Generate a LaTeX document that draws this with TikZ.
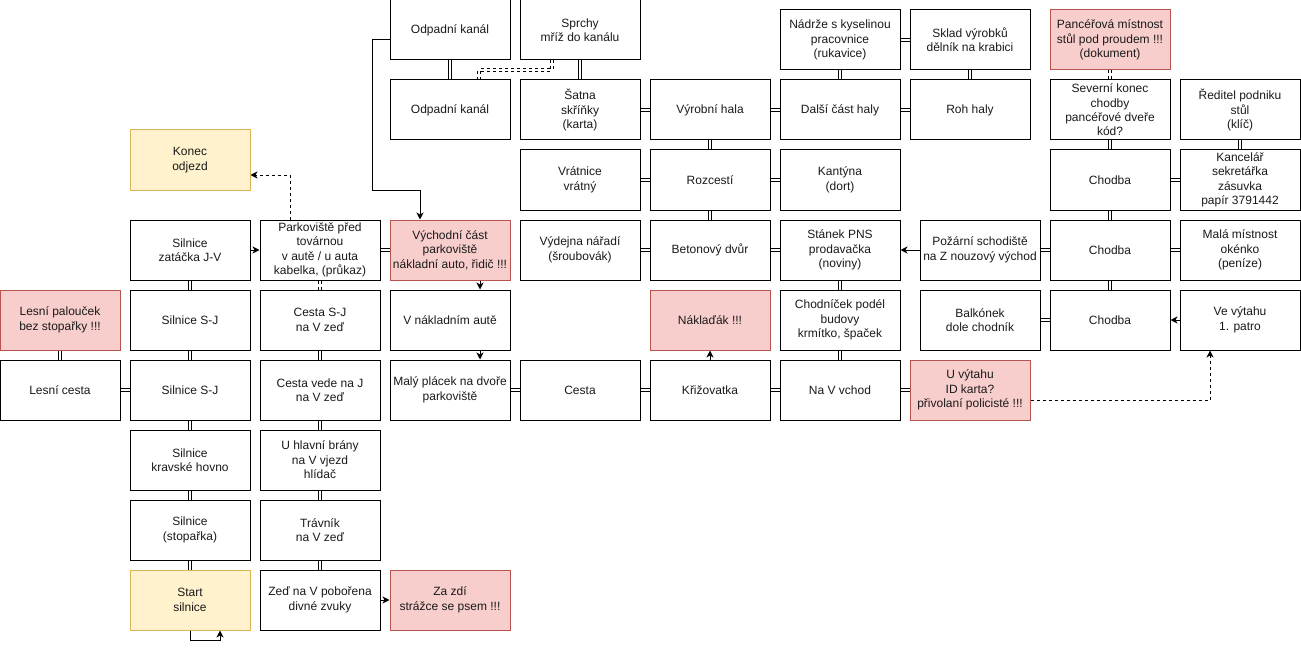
\documentclass[tikz,border=0pt]{standalone}
\usepackage{fontspec}
\setmainfont{Liberation Sans}
\usetikzlibrary{arrows.meta}
\definecolor{redfill}{HTML}{F8CECC}
\definecolor{redline}{HTML}{B85450}
\definecolor{yelfill}{HTML}{FFF2CC}
\definecolor{yelline}{HTML}{D6B656}
\definecolor{txt}{HTML}{1A1A1A}
\begin{document}
\begin{tikzpicture}[x=1pt,y=-1pt,
  box/.style={draw=black, line width=1pt, fill=white, minimum width=120pt, minimum height=60pt,
    inner sep=1pt, align=center, text=txt, font=\fontsize{12}{14.4}\selectfont},
  redbox/.style={box, draw=redline, fill=redfill},
  yelbox/.style={box, draw=yelline, fill=yelfill},
  link/.style={draw=black, line width=1pt, double=white, double distance=2pt},
  dlink/.style={link, dash pattern=on 3pt off 3pt},
  arr/.style={draw=black, line width=1pt, -{Stealth[length=7pt,width=7pt,inset=2pt]}},
  darr/.style={arr, dash pattern=on 3pt off 3pt}]
\useasboundingbox (0,0) rectangle (1301,650);
% row y 0-60
\node[box] (odp1) at (450,30) {Odpadní kanál};
\node[box] (sprchy) at (580,30) {Sprchy\\mříž do kanálu};
% row y 10-70
\node[box] (nadrze) at (840,40) {Nádrže s kyselinou\\pracovnice\\(rukavice)};
\node[box] (sklad) at (970,40) {Sklad výrobků\\dělník na krabici};
\node[redbox] (pancer) at (1110,40) {Pancéřová místnost\\stůl pod proudem !!!\\(dokument)};
% row 80-140
\node[box] (odp2) at (450,110) {Odpadní kanál};
\node[box] (satna) at (580,110) {Šatna\\skříňky\\(karta)};
\node[box] (vyrobni) at (710,110) {Výrobní hala};
\node[box] (dalsi) at (840,110) {Další část haly};
\node[box] (roh) at (970,110) {Roh haly};
\node[box] (severni) at (1110,110) {Severní konec\\chodby\\pancéřové dveře\\kód?};
\node[box] (reditel) at (1240,110) {Ředitel podniku\\stůl\\(klíč)};
% konec
\node[yelbox] (konec) at (190,160) {Konec\\odjezd};
% row 150-210
\node[box] (vratnice) at (580,180) {Vrátnice\\vrátný};
\node[box] (rozcesti) at (710,180) {Rozcestí};
\node[box] (kantyna) at (840,180) {Kantýna\\(dort)};
\node[box] (chodbaA) at (1110,180) {Chodba};
\node[box] (kancelar) at (1240,180) {Kancelář\\sekretářka\\zásuvka\\papír 3791442};
% row 220-280
\node[box] (zatacka) at (190,250) {Silnice\\zatáčka J-V};
\node[box] (park) at (320,250) {Parkoviště před\\továrnou\\v autě / u auta\\kabelka, (průkaz)};
\node[redbox] (vychodni) at (450,250) {Východní část\\parkoviště\\nákladní auto, řidič !!!};
\node[box] (vydejna) at (580,250) {Výdejna nářadí\\(šroubovák)};
\node[box] (beton) at (710,250) {Betonový dvůr};
\node[box] (stanek) at (840,250) {Stánek PNS\\prodavačka\\(noviny)};
\node[box] (pozarni) at (980,250) {Požární schodiště\\na Z nouzový východ};
\node[box] (chodbaB) at (1110,250) {Chodba};
\node[box] (mala) at (1240,250) {Malá místnost\\okénko\\(peníze)};
% row 290-350
\node[redbox] (palou) at (60,320) {Lesní palouček\\bez stopařky !!!};
\node[box] (sj1) at (190,320) {Silnice S-J};
\node[box] (cestasj) at (320,320) {Cesta S-J\\na V zeď};
\node[box] (vnakl) at (450,320) {V nákladním autě};
\node[redbox] (naklad) at (710,320) {Náklaďák !!!};
\node[box] (chodnicek) at (840,320) {Chodníček podél\\budovy\\krmítko, špaček};
\node[box] (balkonek) at (980,320) {Balkónek\\dole chodník};
\node[box] (chodbaC) at (1110,320) {Chodba};
\node[box] (vevytahu) at (1240,320) {Ve výtahu\\1. patro};
% row 360-420
\node[box] (lesnicesta) at (60,390) {Lesní cesta};
\node[box] (sj2) at (190,390) {Silnice S-J};
\node[box] (cestavede) at (320,390) {Cesta vede na J\\na V zeď};
\node[box] (maly) at (450,390) {Malý plácek na dvoře\\parkoviště};
\node[box] (cesta) at (580,390) {Cesta};
\node[box] (krizovatka) at (710,390) {Křižovatka};
\node[box] (navchod) at (840,390) {Na V vchod};
\node[redbox] (uvytahu) at (970,390) {U výtahu\\ID karta?\\přivolaní policisté !!!};
% row 430-490
\node[box] (kravske) at (190,460) {Silnice\\kravské hovno};
\node[box] (hlavni) at (320,460) {U hlavní brány\\na V vjezd\\hlídač};
% row 500-560
\node[box] (stoparka) at (190,530) {Silnice\\(stopařka)};
\node[box] (travnik) at (320,530) {Trávník\\na V zeď};
% row 570-630
\node[yelbox] (start) at (190,600) {Start\\silnice};
\node[box] (zed) at (320,600) {Zeď na V pobořena\\divné zvuky};
\node[redbox] (zazdi) at (450,600) {Za zdí\\strážce se psem !!!};

% double links
\foreach \a/\b in {palou/lesnicesta, lesnicesta/sj2, zatacka/sj1, sj1/sj2, sj2/kravske,
  kravske/stoparka, stoparka/start, park/vychodni, cestasj/cestavede, cestavede/hlavni,
  hlavni/travnik, travnik/zed, odp1/odp2, sprchy/satna, satna/vyrobni, vratnice/rozcesti,
  vyrobni/rozcesti, rozcesti/beton, vydejna/beton, beton/stanek, maly/cesta, cesta/krizovatka,
  krizovatka/navchod, navchod/uvytahu, balkonek/chodbaC, chodbaC/chodbaB, chodbaB/mala,
  pozarni/chodbaB, stanek/chodnicek, chodnicek/navchod, kantyna/rozcesti, dalsi/vyrobni,
  dalsi/roh, nadrze/dalsi, nadrze/sklad, sklad/roh, chodbaA/chodbaB, chodbaA/severni,
  chodbaA/kancelar, kancelar/reditel}
  \draw[link] (\a) -- (\b);
% dashed double links
\draw[dlink] (pancer) -- (severni);
\draw[dlink] (park) -- (cestasj);
\draw[dlink] ([xshift=-28pt]sprchy.south) -- ++(0,10) -| ([xshift=29pt]odp2.north);

% arrows
\draw[arr] (zatacka) -- (park);
\draw[arr] (zed) -- (zazdi);
\draw[arr] ([xshift=30pt]vychodni.south) -- ([xshift=30pt]vnakl.north);
\draw[arr] ([xshift=30pt]vnakl.south) -- ([xshift=30pt]maly.north);
\draw[arr] (krizovatka) -- (naklad);
\draw[arr] (pozarni) -- (stanek);
\draw[arr] (vevytahu) -- (chodbaC);
\coordinate (bendA) at (372,190);
\draw[arr] ([yshift=-10pt]odp1.west) -| (bendA) -| ([xshift=-30pt]vychodni.north);
\draw[arr] (start.south) -- ++(0,10) -| ([xshift=30pt]start.south);
\draw[darr] ([xshift=-30pt]park.north) |- ([yshift=-15pt]konec.east);
\draw[darr] ([yshift=-10pt]uvytahu.east) -| ([xshift=-30pt]vevytahu.south);
\end{tikzpicture}
\end{document}
